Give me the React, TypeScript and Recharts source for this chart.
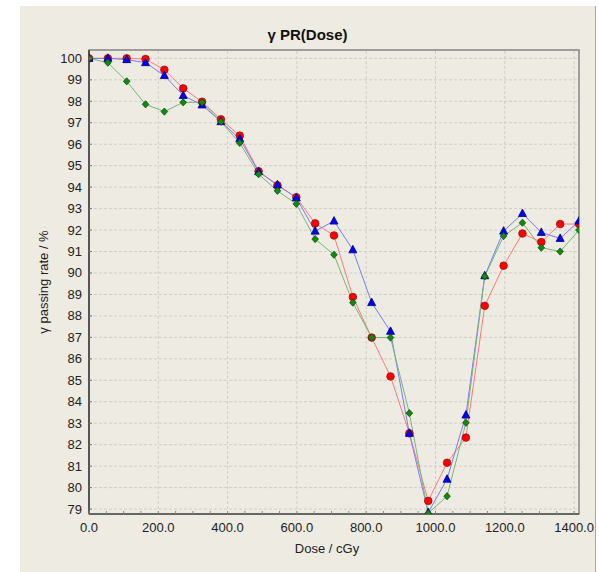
import React from 'react';
import {
  LineChart,
  Line,
  XAxis,
  YAxis,
  CartesianGrid,
  ReferenceLine,
  ReferenceArea
} from 'recharts';

// dose sample points (cGy)
const doses = [
  0, 54.4, 108.8, 163.2, 217.5, 271.9, 326.3, 380.7, 435.1, 489.5, 543.9, 598.3, 652.7, 707.1,
  761.5, 815.8, 870.2, 924.6, 979.0, 1033.4, 1087.8, 1142.2, 1196.6, 1251.0, 1305.4, 1359.8, 1414.2
];

const redPR = [
  100.0, 100.0, 100.0, 99.97, 99.47, 98.6, 97.98, 97.16, 96.4, 94.74, 94.08, 93.53, 92.31, 91.75,
  88.88, 86.99, 85.18, 82.53, 79.38, 81.16, 82.33, 88.47, 90.34, 91.84, 91.44, 92.28, 92.28
];

const bluePR = [
  100.0, 100.0, 99.94, 99.8, 99.2, 98.27, 97.83, 97.05, 96.25, 94.72, 94.11, 93.5, 91.95, 92.42,
  91.08, 88.62, 87.28, 82.53, 78.84, 80.39, 83.38, 89.87, 91.95, 92.77, 91.89, 91.61, 92.42
];

const greenPR = [
  100.0, 99.8, 98.93, 97.86, 97.52, 97.95, 97.95, 97.05, 96.06, 94.6, 93.83, 93.22, 91.58, 90.85,
  88.62, 86.99, 86.99, 83.47, 78.8, 79.6, 83.02, 89.84, 91.72, 92.34, 91.18, 91.0, 92.0
];

const yTicks = [79, 80, 81, 82, 83, 84, 85, 86, 87, 88, 89, 90, 91, 92, 93, 94, 95, 96, 97, 98, 99, 100];
const xMinorTicks = [
  0, 50, 100, 150, 200, 250, 300, 350, 400, 450, 500, 550, 600, 650, 700,
  750, 800, 850, 900, 950, 1000, 1050, 1100, 1150, 1200, 1250, 1300, 1350, 1400
];
const xGridLines = [200, 400, 600, 800, 1000, 1200, 1400];

const data = doses.map((d, i) => ({
  dose: d,
  red: redPR[i],
  blue: bluePR[i],
  green: greenPR[i]
}));

const FONT = '"Liberation Sans", Arial, sans-serif';
const BG = '#eeebe3';
const GRID = '#d2cec5';

const RedDot = (p: any) => (
  <circle key={p.key} cx={p.cx} cy={p.cy} r={3.8} fill="#ff0000" stroke="#a01010" strokeWidth={0.8} />
);

const BlueDot = (p: any) => (
  <path
    key={p.key}
    d={`M${p.cx},${p.cy - 4.5} L${p.cx + 4},${p.cy + 3} L${p.cx - 4},${p.cy + 3} Z`}
    fill="#0000ff"
    stroke="#000070"
    strokeWidth={0.8}
  />
);

const GreenDot = (p: any) => (
  <path
    key={p.key}
    d={`M${p.cx},${p.cy - 3.6} L${p.cx + 3.3},${p.cy} L${p.cx},${p.cy + 3.6} L${p.cx - 3.3},${p.cy} Z`}
    fill="#128a12"
    stroke="#0a500a"
    strokeWidth={0.8}
  />
);

const YTick = ({ x, y, payload }: any) => (
  <g>
    <line x1={x + 7} x2={x + 10} y1={y} y2={y} stroke="#777" />
    <text x={x} y={y} dy={4.5} textAnchor="end" fontSize={13} fontFamily={FONT} fill="#222">
      {payload.value}
    </text>
  </g>
);

const XTick = ({ x, y, payload }: any) => {
  const v = payload.value as number;
  return (
    <g>
      <line x1={x} x2={x} y1={y - 8} y2={y - 11} stroke="#888" />
      {v % 200 === 0 && (
        <text x={x} y={y + 10} textAnchor="middle" fontSize={13} fontFamily={FONT} fill="#222">
          {v.toFixed(1)}
        </text>
      )}
    </g>
  );
};

export default function App() {
  return (
    <div style={{ position: 'absolute', left: 0, top: 0, width: 599, height: 572, background: '#fff' }}>
      <div
        style={{
          position: 'absolute',
          left: 20,
          top: 6,
          width: 575,
          height: 566,
          background: BG,
          borderRight: '1px solid #a8a8a8'
        }}
      />
      <div
        style={{
          position: 'absolute',
          left: 20,
          width: 575,
          top: 26,
          textAlign: 'center',
          fontFamily: FONT,
          fontWeight: 'bold',
          fontSize: 15,
          color: '#111'
        }}
      >
        γ PR(Dose)
      </div>
      <div style={{ position: 'absolute', left: 0, top: 0 }}>
        <LineChart width={599} height={572} data={data} margin={{ top: 50, right: 20, bottom: 28, left: 29 }}>
          <CartesianGrid vertical={false} stroke={GRID} strokeDasharray="3 2" />
          {xGridLines.map((g) => (
            <ReferenceLine key={g} x={g} stroke={GRID} strokeDasharray="3 2" />
          ))}
          <ReferenceArea x1={0} x2={1414.2} y1={78.77} y2={100.39} fill="none" stroke="#858585" strokeWidth={1.5} />
          <XAxis
            dataKey="dose"
            type="number"
            domain={[0, 1414.2]}
            allowDataOverflow
            ticks={xMinorTicks}
            interval={0}
            tickSize={6}
            tickMargin={2}
            tickLine={false}
            tick={<XTick />}
            axisLine={{ stroke: '#666', strokeWidth: 2 }}
            height={30}
            label={{
              content: ({ viewBox }: any) => (
                <text
                  x={viewBox.x + viewBox.width / 2 - 7}
                  y={viewBox.y + 39}
                  textAnchor="middle"
                  fontSize={13}
                  fontFamily={FONT}
                  fill="#222"
                >
                  Dose / cGy
                </text>
              )
            }}
          />
          <YAxis
            type="number"
            domain={[78.77, 100.39]}
            allowDataOverflow
            ticks={yTicks}
            interval={0}
            width={60}
            tickSize={4}
            tickMargin={3}
            tickLine={false}
            tick={<YTick />}
            axisLine={{ stroke: '#555', strokeWidth: 2 }}
            label={{
              content: ({ viewBox }: any) => {
                const cx = viewBox.x + 14;
                const cy = viewBox.y + viewBox.height / 2;
                return (
                  <text
                    x={cx}
                    y={cy}
                    transform={`rotate(-90 ${cx} ${cy})`}
                    textAnchor="middle"
                    dominantBaseline="central"
                    fontSize={13}
                    fontFamily={FONT}
                    fill="#222"
                  >
                    γ passing rate / %
                  </text>
                );
              }
            }}
          />
          <Line
            type="linear"
            dataKey="red"
            stroke="#ff7a7a"
            strokeWidth={1}
            dot={RedDot}
            activeDot={false}
            isAnimationActive={false}
          />
          <Line
            type="linear"
            dataKey="blue"
            stroke="#7a7aff"
            strokeWidth={1}
            dot={BlueDot}
            activeDot={false}
            isAnimationActive={false}
          />
          <Line
            type="linear"
            dataKey="green"
            stroke="#74b874"
            strokeWidth={1}
            dot={GreenDot}
            activeDot={false}
            isAnimationActive={false}
          />
        </LineChart>
      </div>
    </div>
  );
}
